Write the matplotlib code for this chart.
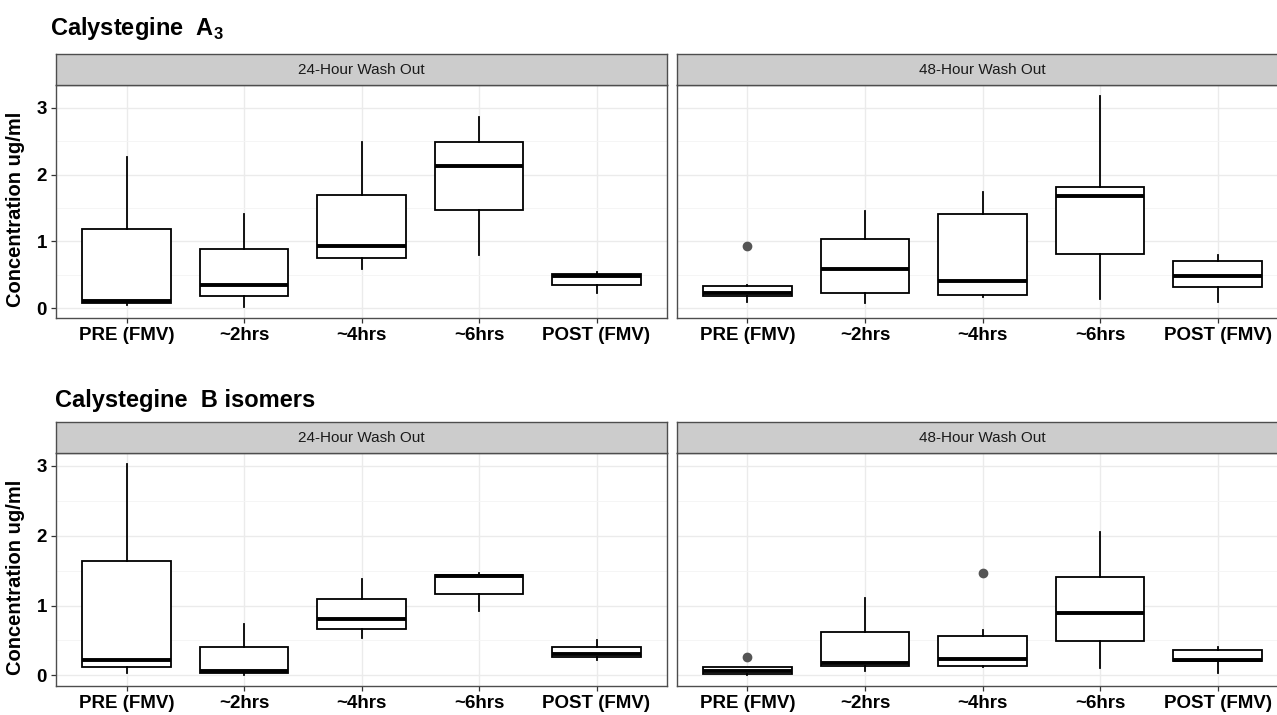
import matplotlib
matplotlib.use('Agg')
import matplotlib.pyplot as plt
import numpy as np

plt.rcParams['font.family'] = ['Liberation Sans', 'DejaVu Sans']
plt.rcParams['mathtext.fontset'] = 'custom'
plt.rcParams['mathtext.bf'] = 'Liberation Sans:bold'
plt.rcParams['mathtext.rm'] = 'Liberation Sans'

categories = ['PRE (FMV)', '~2hrs', '~4hrs', '~6hrs', 'POST (FMV)']
facets = ['24-Hour Wash Out', '48-Hour Wash Out']
titles = [r'Calystegine  A$_\mathbf{3}$', 'Calystegine  B isomers']
y_label = 'Concentration ug/ml'
y_ticks = [0, 1, 2, 3]

# Calystegine A3 - 24 h wash out (whisker low, Q1, median, Q3, whisker high)
a3_24_lo = [0.05, 0.01, 0.585, 0.795, 0.22]
a3_24_q1 = [0.075, 0.175, 0.75, 1.47, 0.345]
a3_24_med = [0.11, 0.345, 0.925, 2.135, 0.475]
a3_24_q3 = [1.19, 0.885, 1.70, 2.495, 0.505]
a3_24_hi = [2.27, 1.41, 2.485, 2.86, 0.545]
a3_24_out = [[], [], [], [], []]

# Calystegine A3 - 48 h wash out
a3_48_lo = [0.085, 0.075, 0.17, 0.135, 0.09]
a3_48_q1 = [0.175, 0.22, 0.2, 0.805, 0.315]
a3_48_med = [0.225, 0.585, 0.41, 1.685, 0.485]
a3_48_q3 = [0.335, 1.035, 1.41, 1.82, 0.705]
a3_48_hi = [0.35, 1.45, 1.735, 3.185, 0.795]
a3_48_out = [[0.93], [], [], [], []]

# Calystegine B isomers - 24 h wash out
b_24_lo = [0.04, 0.0, 0.535, 0.92, 0.22]
b_24_q1 = [0.12, 0.03, 0.66, 1.16, 0.26]
b_24_med = [0.215, 0.062, 0.80, 1.415, 0.30]
b_24_q3 = [1.63, 0.405, 1.09, 1.44, 0.41]
b_24_hi = [3.03, 0.73, 1.385, 1.46, 0.50]
b_24_out = [[], [], [], [], []]

# Calystegine B isomers - 48 h wash out
b_48_lo = [0.01, 0.057, 0.12, 0.10, 0.04]
b_48_q1 = [0.024, 0.14, 0.14, 0.487, 0.20]
b_48_med = [0.07, 0.18, 0.23, 0.893, 0.225]
b_48_q3 = [0.12, 0.626, 0.564, 1.41, 0.37]
b_48_hi = [0.12, 1.11, 0.65, 2.055, 0.41]
b_48_out = [[0.27], [], [1.46], [], []]


def make_stats(lo, q1, med, q3, hi, out):
    stats = []
    for i in range(len(lo)):
        stats.append(dict(whislo=lo[i], q1=q1[i], med=med[i], q3=q3[i],
                          whishi=hi[i], fliers=out[i]))
    return stats


rows = [
    [make_stats(a3_24_lo, a3_24_q1, a3_24_med, a3_24_q3, a3_24_hi, a3_24_out),
     make_stats(a3_48_lo, a3_48_q1, a3_48_med, a3_48_q3, a3_48_hi, a3_48_out)],
    [make_stats(b_24_lo, b_24_q1, b_24_med, b_24_q3, b_24_hi, b_24_out),
     make_stats(b_48_lo, b_48_q1, b_48_med, b_48_q3, b_48_hi, b_48_out)],
]

W, H = 1277, 715
fig = plt.figure(figsize=(W / 100, H / 100), dpi=100)

# layout in pixels
panel_left = [56, 677]
panel_w = 611
panel_top = [85, 453]
panel_h = 233
strip_h = 31
title_base = [35, 407]
title_x = [50, 55]

border = '#4d4d4d'

for r, row in enumerate(rows):
    # shared y range with ggplot-like 5% expansion
    vals = []
    for st in row:
        for s in st:
            vals += [s['whislo'], s['whishi']] + list(s['fliers'])
    vmin, vmax = min(vals), max(vals)
    pad = (vmax - vmin) * 0.05
    ylim = (vmin - pad, vmax + pad)

    fig.text(title_x[r] / W, 1 - title_base[r] / H, titles[r], fontsize=17,
             fontweight='bold', va='baseline', ha='left')

    for c, stats in enumerate(row):
        x0 = panel_left[c] / W
        y0 = 1 - (panel_top[r] + panel_h) / H
        ax = fig.add_axes([x0, y0, panel_w / W, panel_h / H])
        ax.set_axisbelow(True)
        ax.bxp(stats, positions=range(1, 6), widths=0.75, patch_artist=True,
               showcaps=False, manage_ticks=False,
               boxprops=dict(facecolor='white', edgecolor='black', linewidth=1.3),
               medianprops=dict(color='black', linewidth=2.8),
               whiskerprops=dict(color='black', linewidth=1.3),
               flierprops=dict(marker='o', markerfacecolor='#555555',
                               markeredgecolor='#555555', markersize=6))
        ax.set_xlim(0.4, 5.6)
        ax.set_ylim(*ylim)
        ax.set_xticks(range(1, 6))
        ax.set_xticklabels(categories, fontsize=13.5, fontweight='bold')
        ax.set_yticks(y_ticks)
        ax.set_yticks([0.5, 1.5, 2.5], minor=True)
        ax.grid(which='major', color='#ebebeb', linewidth=1.0)
        ax.grid(which='minor', axis='y', color='#f4f4f4', linewidth=0.6)
        ax.tick_params(axis='both', which='major', length=3.5, width=0.9,
                       color='#333333', labelcolor='black', pad=3)
        ax.tick_params(axis='y', which='minor', length=0)
        if c == 0:
            ax.set_yticklabels([str(t) for t in y_ticks], fontsize=13.5,
                               fontweight='bold')
        else:
            ax.tick_params(axis='y', which='major', left=False, labelleft=False)
        for sp in ax.spines.values():
            sp.set_color(border)
            sp.set_linewidth(1.0)

        # facet strip
        sy0 = 1 - panel_top[r] / H
        sax = fig.add_axes([x0, sy0, panel_w / W, strip_h / H])
        sax.set_facecolor('#cccccc')
        sax.set_xticks([])
        sax.set_yticks([])
        for sp in sax.spines.values():
            sp.set_color(border)
            sp.set_linewidth(1.0)
        sax.text(0.5, 0.5, facets[c], transform=sax.transAxes, ha='center',
                 va='center', fontsize=11, color='#1a1a1a')

    fig.text(16 / W, 1 - (panel_top[r] + panel_h / 2 + 8) / H, y_label,
             rotation=90, ha='center', va='center', fontsize=14.5,
             fontweight='bold')

fig.savefig('out.png', dpi=100)
